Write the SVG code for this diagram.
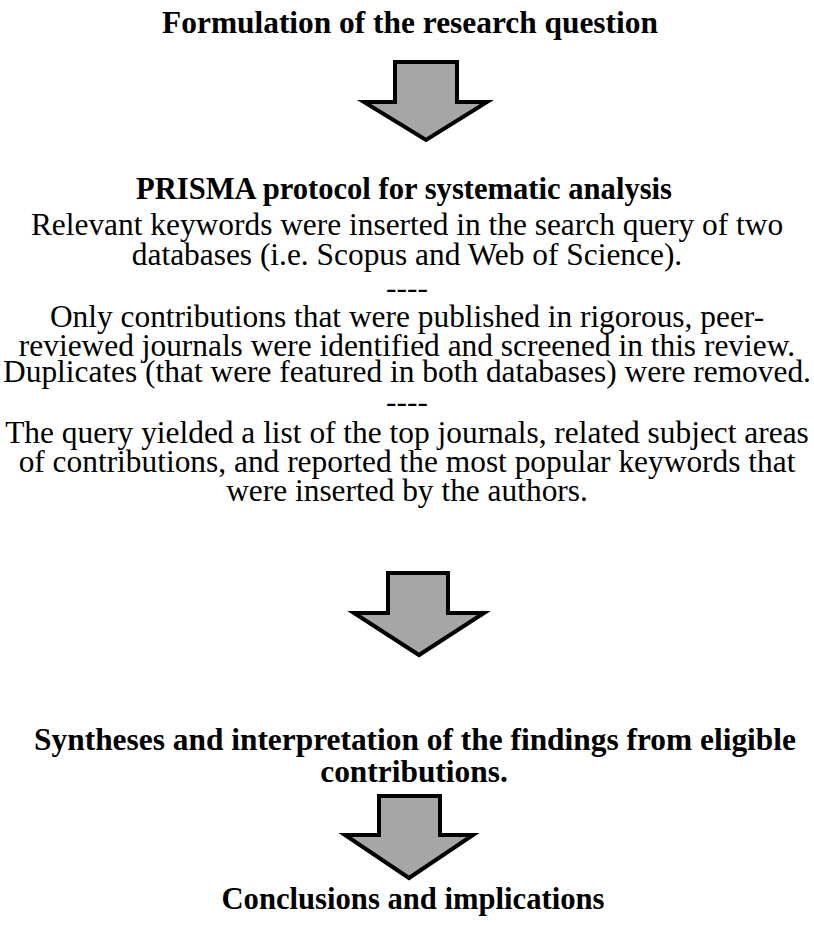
<svg xmlns="http://www.w3.org/2000/svg" width="814" height="925" viewBox="0 0 814 925">
<style>
text{font-family:"Liberation Serif","Times New Roman",serif;font-size:31.4px;fill:#000;text-anchor:middle}
.b{font-weight:bold}
.arrow{fill:#a6a6a6;stroke:#000;stroke-width:4;stroke-linejoin:miter}
</style>
<rect width="814" height="925" fill="#fff"/>
<g id="step1"><text class="b" x="410" y="33">Formulation of the research question</text></g>
<g id="step2">
<text class="b" x="404" y="199" textLength="536" lengthAdjust="spacingAndGlyphs">PRISMA protocol for systematic analysis</text>
<text x="407" y="235">Relevant keywords were inserted in the search query of two</text>
<text x="407" y="265">databases (i.e. Scopus and Web of Science).</text>
<text x="407" y="298">----</text>
<text x="407" y="327">Only contributions that were published in rigorous, peer-</text>
<text x="407" y="356">reviewed journals were identified and screened in this review.</text>
<text x="407" y="382">Duplicates (that were featured in both databases) were removed.</text>
<text x="407" y="412">----</text>
<text x="407" y="443">The query yielded a list of the top journals, related subject areas</text>
<text x="407" y="472">of contributions, and reported the most popular keywords that</text>
<text x="407" y="501">were inserted by the authors.</text>
</g>
<g id="step3">
<text class="b" x="415" y="750">Syntheses and interpretation of the findings from eligible</text>
<text class="b" x="414" y="782">contributions.</text>
</g>
<g id="step4"><text class="b" x="413" y="909" textLength="383" lengthAdjust="spacingAndGlyphs">Conclusions and implications</text></g>
<g id="connectors">
<polygon class="arrow" points="395,62 457,62 457,102 487,102 426,140 364,102 395,102"/>
<polygon class="arrow" points="388,573 448,573 448,613 484,613 419,655 354,613 388,613"/>
<polygon class="arrow" points="379,796 440,796 440,835 473,835 409,878 345,835 379,835"/>
</g>
</svg>
